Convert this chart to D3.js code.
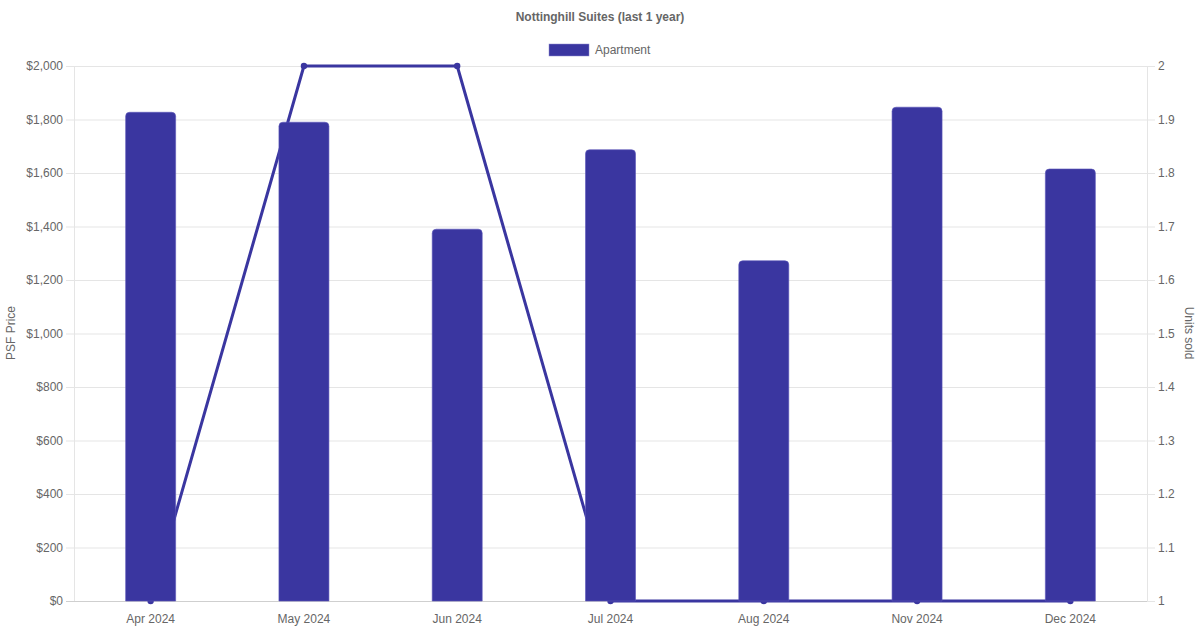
<!DOCTYPE html>
<html><head><meta charset="utf-8">
<script src="https://cdn.jsdelivr.net/npm/d3@7"></script>
<style>body{margin:0;background:#fff;} svg{display:block;font-family:"Liberation Sans",Arial,sans-serif;}</style>
</head><body>
<svg id="c" width="1200" height="630"></svg>
<script>
const categories = ["Apr 2024","May 2024","Jun 2024","Jul 2024","Aug 2024","Nov 2024","Dec 2024"];
const psfValues = [1827, 1790, 1390, 1687, 1272, 1846, 1615];
const unitsSold = [1, 2, 2, 1, 1, 1, 1];
const leftTicks = [0,200,400,600,800,1000,1200,1400,1600,1800,2000];
const rightTicks = [1,1.1,1.2,1.3,1.4,1.5,1.6,1.7,1.8,1.9,2];

const W=1200,H=630;
const m={left:74,right:1147,top:66,bottom:601};
const color="#3a36a0";
const svg=d3.select("#c");

const x=d3.scaleBand().domain(categories).range([m.left,m.right]);
const yL=d3.scaleLinear().domain([0,2000]).range([m.bottom,m.top]);
const yR=d3.scaleLinear().domain([1,2]).range([m.bottom,m.top]);

// grid
svg.append("g").selectAll("line").data(leftTicks).join("line")
  .attr("x1",m.left-8).attr("x2",m.right).attr("y1",d=>yL(d)+0.5).attr("y2",d=>yL(d)+0.5)
  .attr("stroke",d=>d===0?"#cfcfcf":"#e5e5e5").attr("stroke-width",1);
svg.append("g").selectAll("line").data(rightTicks).join("line")
  .attr("x1",m.right).attr("x2",m.right+8).attr("y1",d=>yR(d)+0.5).attr("y2",d=>yR(d)+0.5)
  .attr("stroke","#e5e5e5");
svg.append("line").attr("x1",m.left+0.5).attr("x2",m.left+0.5).attr("y1",m.top).attr("y2",m.bottom).attr("stroke","#e5e5e5");
svg.append("line").attr("x1",m.right+0.5).attr("x2",m.right+0.5).attr("y1",m.top).attr("y2",m.bottom).attr("stroke","#e5e5e5");

// tick labels
const fmt=d=>"$"+d3.format(",")(d);
svg.append("g").selectAll("text").data(leftTicks).join("text")
  .attr("x",m.left-11).attr("y",d=>yL(d)).attr("dy","0.35em").attr("text-anchor","end")
  .attr("font-size",12).attr("fill","#666").text(fmt);
svg.append("g").selectAll("text").data(rightTicks).join("text")
  .attr("x",m.right+11).attr("y",d=>yR(d)).attr("dy","0.35em").attr("text-anchor","start")
  .attr("font-size",12).attr("fill","#666").text(d=>d3.format("")(+d.toFixed(1)));
svg.append("g").selectAll("text").data(categories).join("text")
  .attr("x",d=>x(d)+x.bandwidth()/2).attr("y",619).attr("dy","0.35em").attr("text-anchor","middle")
  .attr("font-size",12).attr("fill","#666").text(d=>d);

// axis titles
svg.append("text").attr("transform",`translate(15,333) rotate(-90)`).attr("text-anchor","middle")
  .attr("font-size",12).attr("fill","#666").text("PSF Price");
svg.append("text").attr("transform",`translate(1185,333) rotate(90)`).attr("text-anchor","middle")
  .attr("font-size",12).attr("fill","#666").text("Units sold");

// title & legend
svg.append("text").attr("x",600).attr("y",17).attr("dy","0.35em").attr("text-anchor","middle")
  .attr("font-size",12).attr("font-weight","bold").attr("fill","#666").text("Nottinghill Suites (last 1 year)");
svg.append("rect").attr("x",549).attr("y",44).attr("width",40).attr("height",12).attr("fill",color)
  .attr("stroke","#8f8cd0").attr("stroke-width",0.5);
svg.append("text").attr("x",595).attr("y",50).attr("dy","0.35em").attr("font-size",12).attr("fill","#666").text("Apartment");

// line (behind bars)
const pts=categories.map((c,i)=>({c,v:unitsSold[i]}));
svg.append("path").datum(pts).attr("fill","none").attr("stroke",color).attr("stroke-width",3)
  .attr("stroke-linejoin","round")
  .attr("d",d3.line().x(d=>x(d.c)+x.bandwidth()/2).y(d=>yR(d.v)));
svg.append("g").selectAll("circle").data(pts).join("circle")
  .attr("cx",d=>x(d.c)+x.bandwidth()/2).attr("cy",d=>yR(d.v)).attr("r",3.2).attr("fill",color);

// bars with rounded top corners
const bw=50, r=4;
function barPath(cx,top,bottom){
  const x0=cx-bw/2,x1=cx+bw/2;
  return `M${x0},${bottom}V${top+r}Q${x0},${top} ${x0+r},${top}H${x1-r}Q${x1},${top} ${x1},${top+r}V${bottom}Z`;
}
svg.append("g").selectAll("path").data(categories.map((c,i)=>({c,v:psfValues[i]}))).join("path")
  .attr("d",d=>barPath(x(d.c)+x.bandwidth()/2,yL(d.v),yL(0)))
  .attr("fill",color).attr("stroke","#5a56b8").attr("stroke-width",0.6);
</script>
</body></html>
